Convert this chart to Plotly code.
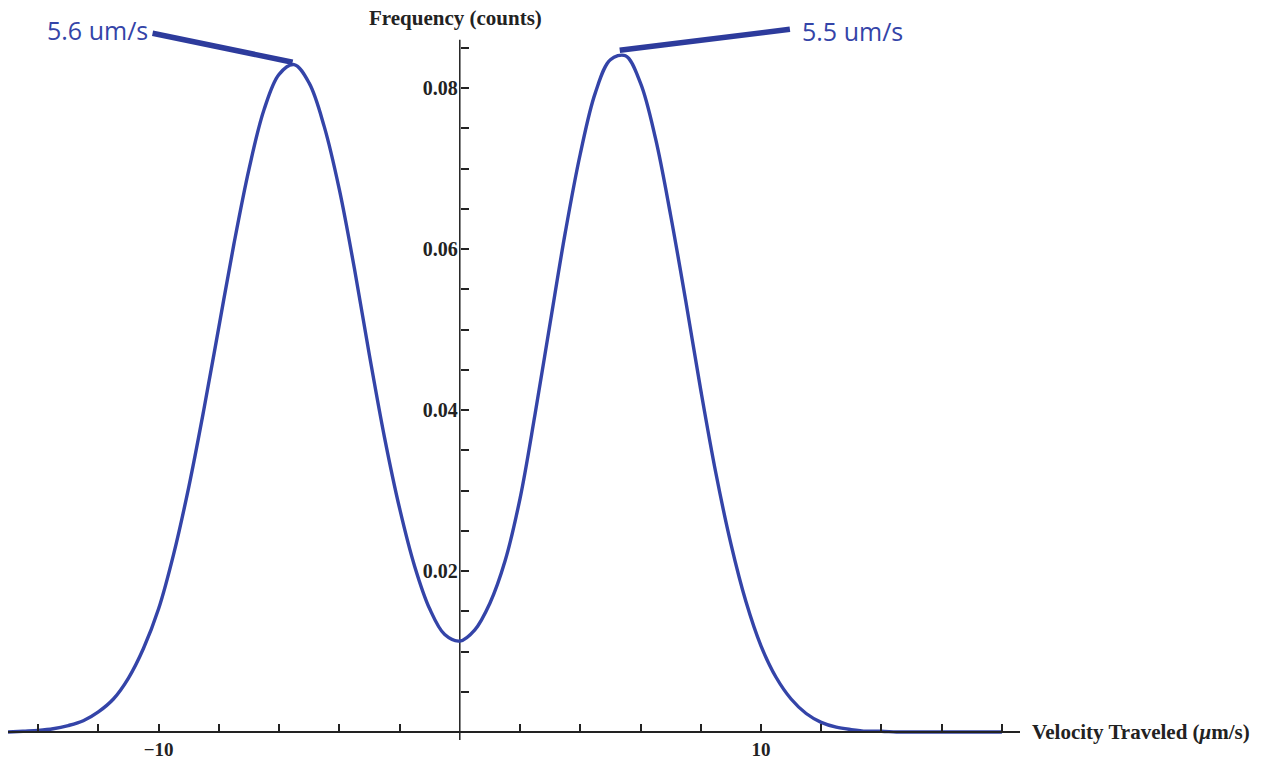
import plotly.graph_objects as go

# ---- data ----
velocity = [-15.0, -14.5, -14.0, -13.5, -13.0, -12.5, -12.0, -11.5, -11.0, -10.5,
            -10.0, -9.5, -9.0, -8.5, -8.0, -7.5, -7.0, -6.5, -6.0, -5.5,
            -5.0, -4.5, -4.0, -3.5, -3.0, -2.5, -2.0, -1.5, -1.0, -0.5,
            0.0, 0.5, 1.0, 1.5, 2.0, 2.5, 3.0, 3.5, 4.0, 4.5,
            5.0, 5.5, 6.0, 6.5, 7.0, 7.5, 8.0, 8.5, 9.0, 9.5,
            10.0, 10.5, 11.0, 11.5, 12.0, 12.5, 13.0, 13.5, 14.0, 14.5,
            15.0, 16.0, 17.0, 18.0]
frequency = [0.0000, 0.0001, 0.0002, 0.0004, 0.0008, 0.0014, 0.0025, 0.0041, 0.0067, 0.0104,
             0.0153, 0.0221, 0.0304, 0.0400, 0.0503, 0.0606, 0.0699, 0.0773, 0.0817, 0.0829,
             0.0806, 0.0752, 0.0674, 0.0576, 0.0468, 0.0366, 0.0278, 0.0206, 0.0153, 0.0121,
             0.0113, 0.0127, 0.0160, 0.0212, 0.0290, 0.0395, 0.0508, 0.0620, 0.0718, 0.0794,
             0.0835, 0.0840, 0.0806, 0.0737, 0.0642, 0.0536, 0.0425, 0.0322, 0.0234, 0.0162,
             0.0107, 0.0068, 0.0041, 0.0023, 0.0012, 0.0006, 0.0003, 0.0001, 0.0001, 0.0000,
             0.0000, 0.0000, 0.0000, 0.0000]

x_tick_values = [-14, -12, -10, -8, -6, -4, -2, 2, 4, 6, 8, 10, 12, 14, 16, 18]
x_tick_labels = ["", "", "\u221210", "", "", "", "", "", "", "", "", "10", "", "", "", ""]
y_tick_values = [0.005, 0.010, 0.015, 0.020, 0.025, 0.030, 0.035, 0.040, 0.045,
                 0.050, 0.055, 0.060, 0.065, 0.070, 0.075, 0.080, 0.085]
y_tick_labels = ["", "", "", "0.02", "", "", "", "0.04", "", "", "", "0.06", "", "", "", "0.08", ""]

# callouts: (peak x, peak y, far end x, far end y, label)
callout_left = (-5.55, 0.0832, -10.2, 0.0868, "5.6 um/s")
callout_right = (5.31, 0.0847, 10.96, 0.0873, "5.5 um/s")

x_range = [-15.0, 18.6]
y_range = [-0.001615, 0.09031]
y_axis_extent = [-0.001, 0.086]

curve_color = "#3444A8"
callout_color = "#2D3B9C"
axis_color = "#222222"
serif = "Liberation Serif"

fig = go.Figure()

# vertical axis line (Mathematica-style, crossing at origin)
fig.add_trace(go.Scatter(x=[0, 0], y=y_axis_extent, mode="lines",
                         line=dict(color=axis_color, width=1.5),
                         hoverinfo="skip", showlegend=False))

fig.add_trace(go.Scatter(x=velocity, y=frequency, mode="lines",
                         line=dict(color=curve_color, width=3.4, shape="spline", smoothing=1.0),
                         cliponaxis=False, showlegend=False))

for (px_, py_, ex, ey, label) in (callout_left, callout_right):
    fig.add_trace(go.Scatter(x=[px_, ex], y=[py_, ey], mode="lines",
                             line=dict(color=callout_color, width=5.5),
                             hoverinfo="skip", showlegend=False))

fig.add_annotation(x=callout_left[2], y=callout_left[3], text=callout_left[4],
                   showarrow=False, xanchor="right", yanchor="middle", xshift=-3, yshift=3,
                   font=dict(family="Open Sans", size=25, color=curve_color))
fig.add_annotation(x=callout_right[2], y=callout_right[3], text=callout_right[4],
                   showarrow=False, xanchor="left", yanchor="middle", xshift=10, yshift=-2,
                   font=dict(family="Open Sans", size=25, color=curve_color))

# axis titles
fig.add_annotation(x=0, y=y_range[1], text="Frequency (counts)", showarrow=False,
                   xanchor="center", yanchor="middle", yshift=-13, xshift=-4,
                   font=dict(family=serif, size=21, color=axis_color, weight="bold"))
fig.add_annotation(x=x_range[1], y=0, text="Velocity Traveled (<i>\u03bc</i>m/s)", showarrow=False,
                   xanchor="left", yanchor="middle", xshift=10,
                   font=dict(family=serif, size=21, color=axis_color, weight="bold"))

x_axis_pos = (0 - y_range[0]) / (y_range[1] - y_range[0])
y_axis_pos = (0 - x_range[0]) / (x_range[1] - x_range[0])

fig.update_layout(
    width=1267, height=761,
    margin=dict(l=8, r=247, t=5, b=16, autoexpand=False),
    paper_bgcolor="white", plot_bgcolor="white",
    showlegend=False,
    xaxis=dict(range=x_range, anchor="free", position=x_axis_pos, automargin=False,
               showgrid=False, zeroline=False, showline=True,
               linecolor=axis_color, linewidth=1.5,
               ticks="inside", ticklen=7, tickwidth=1.5, tickcolor=axis_color,
               tickvals=x_tick_values, ticktext=x_tick_labels,
               ticklabelstandoff=0,
               tickfont=dict(family=serif, size=19, color=axis_color, weight="bold")),
    yaxis=dict(range=y_range, anchor="free", position=y_axis_pos, automargin=False,
               showgrid=False, zeroline=False, showline=False,
               ticks="inside", ticklen=8, tickwidth=1.5, tickcolor=axis_color,
               tickvals=y_tick_values, ticktext=y_tick_labels,
               ticklabelstandoff=2,
               tickfont=dict(family=serif, size=20, color=axis_color, weight="bold")),
)

fig.write_html("out.html")
